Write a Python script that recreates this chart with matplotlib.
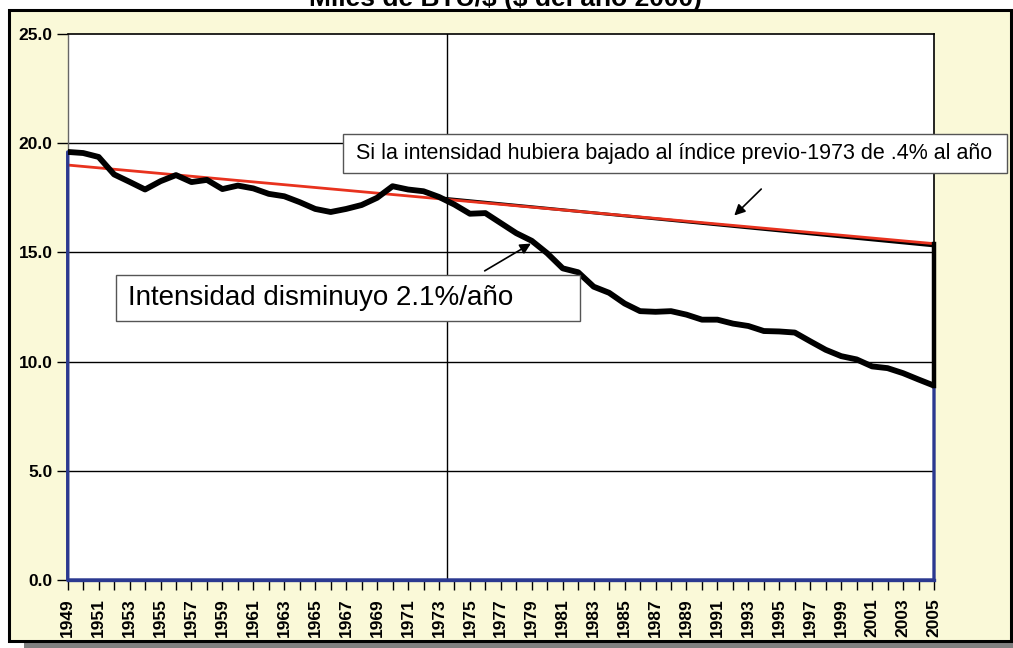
#!/usr/bin/env python3

import matplotlib
matplotlib.use("Agg")
import matplotlib.pyplot as plt
from matplotlib.patches import Rectangle

plt.rcParams['font.family'] = ['Liberation Sans', 'DejaVu Sans']

###################################################
# DATA
###################################################

years = list(range(1949, 2006))
intensity = [19.6, 19.55, 19.37, 18.57, 18.23, 17.88, 18.26, 18.54, 18.22, 18.32,
             17.9, 18.06, 17.93, 17.68, 17.57, 17.3, 16.99, 16.85, 16.99, 17.17,
             17.5, 18.03, 17.88, 17.8, 17.54, 17.19, 16.77, 16.8, 16.34, 15.88,
             15.53, 14.96, 14.27, 14.09, 13.43, 13.15, 12.66, 12.31, 12.28, 12.31,
             12.15, 11.92, 11.92, 11.74, 11.63, 11.4, 11.38, 11.33, 10.93, 10.54,
             10.25, 10.1, 9.78, 9.7, 9.47, 9.18, 8.9]

trend_years = [1949, 2005]
trend_vals = [19.0, 15.4]
post73_years = [1973, 2005]
post73_vals = [17.5, 15.3]

title = r"Miles de BTU/\$ (\$ del año 2000)"
note_top = "Si la intensidad hubiera bajado al índice previo-1973 de .4% al año"
note_low = "Intensidad disminuyo 2.1%/año"

###################################################
# FIGURE
###################################################

W, H = 1013, 648
fig = plt.figure(figsize=(W / 100, H / 100), dpi=100, facecolor='white')


def fx(px):
    return px / W


def fy(py):
    return 1 - py / H


# yellow frame with shadow
fig.add_artist(Rectangle((fx(24), fy(648)), fx(1013) - fx(24), 7 / H,
                         transform=fig.transFigure, facecolor='#808080',
                         edgecolor='none', zorder=-3))
fig.add_artist(Rectangle((fx(8.5), fy(641)), (1011 - 8.5) / W, (641 - 10) / H,
                         transform=fig.transFigure, facecolor='#FAF9D8',
                         edgecolor='black', lw=2.2, zorder=-2))

# title sits half outside the picture, as in the original slide
fig.text(fx(505), fy(6), title, ha='center', va='baseline',
         fontsize=19, fontweight='bold', zorder=5)

ax = fig.add_axes([fx(67.7), fy(580), (934 - 67.7) / W, (580 - 34) / H])
ax.set_facecolor('white')

ax.set_xlim(1949, 2005)
ax.set_ylim(0, 25)

for v in [5, 10, 15, 20]:
    ax.axhline(v, color='black', lw=1, zorder=1)
ax.axvline(1973.55, color='black', lw=1, zorder=1)

area = ax.fill_between(years, intensity, 0, facecolor='none', edgecolor='#2B3990',
                       lw=2.4, zorder=5)
area.set_clip_on(False)
ax.plot(years, intensity, color='black', lw=4.2, solid_joinstyle='round',
        solid_capstyle='butt', zorder=6)
ax.plot(post73_years, post73_vals, color='black', lw=2.2, zorder=3)
ax.plot(trend_years, trend_vals, color='#E8321E', lw=2, zorder=3)
ax.plot([2005, 2005], [intensity[-1], trend_vals[-1]], color='black', lw=3.2,
        zorder=6, clip_on=False)

ax.annotate('', xy=(1991.96, 16.6), xytext=(1993.96, 17.99),
            arrowprops=dict(arrowstyle='-|>', color='black', lw=1.2, mutation_scale=16))
ax.annotate('', xy=(1979.1, 15.47), xytext=(1975.8, 14.09),
            arrowprops=dict(arrowstyle='-|>', color='black', lw=1.2, mutation_scale=16))

# axes styling
for side in ['top', 'right']:
    ax.spines[side].set_color('black')
    ax.spines[side].set_linewidth(1.2)
ax.spines['left'].set_color('#666666')
ax.spines['left'].set_linewidth(1)
ax.spines['bottom'].set_color('#2B3990')
ax.spines['bottom'].set_linewidth(2.4)

ax.set_yticks([0, 5, 10, 15, 20, 25])
ax.set_yticklabels(['%.1f' % v for v in [0, 5, 10, 15, 20, 25]],
                   fontsize=12.5, fontweight='bold')
ax.set_xticks(years)
ax.set_xticklabels([str(y) if (y - 1949) % 2 == 0 else '' for y in years],
                   rotation=90, fontsize=12.5, fontweight='bold')
ax.tick_params(axis='y', direction='out', length=8, width=1, color='black', pad=3)
ax.tick_params(axis='x', direction='out', length=7, width=1, color='black', pad=6)

# text boxes
fig.add_artist(Rectangle((fx(343), fy(173)), (1007 - 343) / W, (173 - 134) / H,
                         transform=fig.transFigure, facecolor='white',
                         edgecolor='#555555', lw=1, zorder=6))
fig.text(fx(356), fy(154), note_top, ha='left', va='center', fontsize=15.5, zorder=7)

fig.add_artist(Rectangle((fx(115.5), fy(321)), (580 - 115.5) / W, (321 - 275) / H,
                         transform=fig.transFigure, facecolor='white',
                         edgecolor='#555555', lw=1, zorder=6))
fig.text(fx(128), fy(298), note_low, ha='left', va='center', fontsize=20, zorder=7)

plt.savefig('out.png', dpi=100, facecolor=fig.get_facecolor())
plt.close()
